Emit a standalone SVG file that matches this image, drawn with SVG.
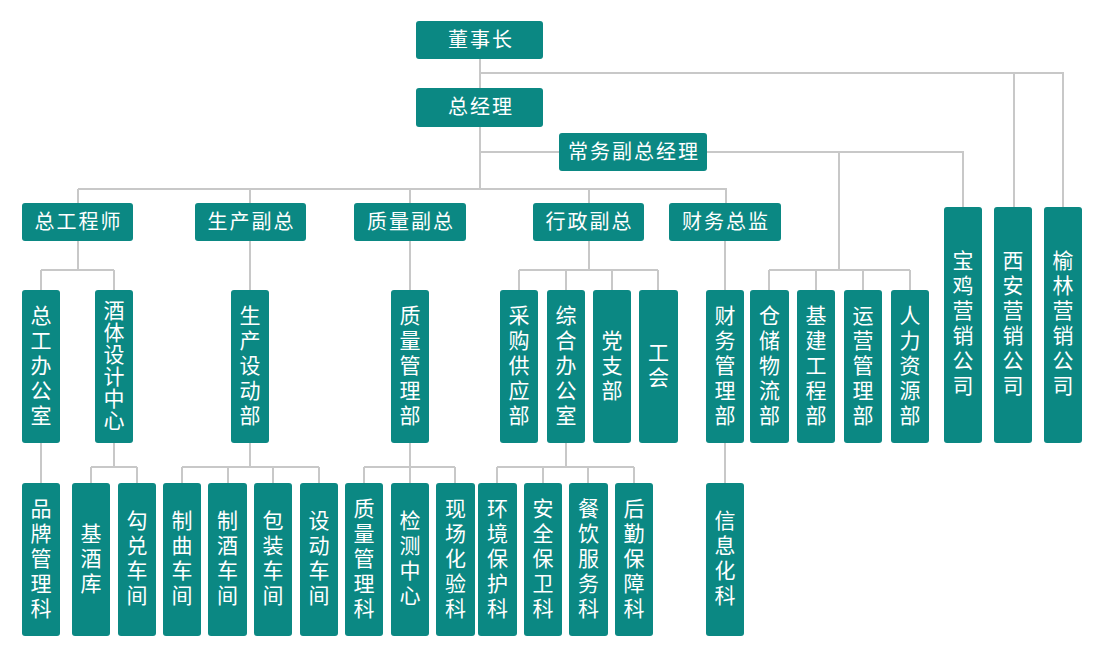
<svg xmlns="http://www.w3.org/2000/svg" width="1100" height="648" viewBox="0 0 1100 648">
<style>
.b{fill:#0b8883}
.t{fill:#ffffff;font-family:"Noto Sans CJK SC","Noto Sans",sans-serif;font-size:20px;letter-spacing:2px}
.v{fill:#ffffff;font-family:"Noto Sans CJK SC","Noto Sans",sans-serif;font-size:21px;text-anchor:middle}
.c{fill:none;stroke:#c8c8c8;stroke-width:2}
</style>
<rect width="1100" height="648" fill="#ffffff"/>
<g id="connectors" class="c">
<path d="M480 59V188M480 73H1063V207M1014 73V207"/>
<path d="M480 152H559M707 152H963V207M839 152V270"/>
<path d="M78 189H726V203M78 189V203M250 189V203M410 189V203M589 189V203"/>
<path d="M78 241V270M41 270H114M41 270V290M114 270V290"/>
<path d="M250 241V290M410 241V290"/>
<path d="M589 241V270M519 270H658M519 270V290M566 270V290M612 270V290M658 270V290"/>
<path d="M725 241V290M769 270H910M769 270V290M816 270V290M863 270V290M910 270V290"/>
<path d="M41 443V483"/>
<path d="M114 443V467M91 467H137M91 467V483M137 467V483"/>
<path d="M250 443V467M182 467H319M182 467V483M228 467V483M273 467V483M319 467V483"/>
<path d="M410 443V467M364 467H455M364 467V483M410 467V483M455 467V483"/>
<path d="M566 443V467M497 467H634M497 467V483M543 467V483M588 467V483M634 467V483"/>
<path d="M725 443V483"/>
</g>
<g id="n-dongshizhang"><rect class="b" x="416" y="21" width="127" height="38" rx="3"/><text class="t" x="481" y="47" text-anchor="middle">董事长</text></g>
<g id="n-zongjingli"><rect class="b" x="416" y="88" width="127" height="39" rx="3"/><text class="t" x="481" y="114" text-anchor="middle">总经理</text></g>
<g id="n-changwu"><rect class="b" x="559" y="133" width="148" height="38" rx="3"/><text class="t" x="634" y="159" text-anchor="middle">常务副总经理</text></g>
<g id="n-zonggong"><rect class="b" x="22" y="203" width="111" height="38" rx="3"/><text class="t" x="78.5" y="229" text-anchor="middle">总工程师</text></g>
<g id="n-shengchan"><rect class="b" x="195" y="203" width="111" height="38" rx="3"/><text class="t" x="251.5" y="229" text-anchor="middle">生产副总</text></g>
<g id="n-zhiliang"><rect class="b" x="354" y="203" width="112" height="38" rx="3"/><text class="t" x="411" y="229" text-anchor="middle">质量副总</text></g>
<g id="n-xingzheng"><rect class="b" x="533" y="203" width="111" height="38" rx="3"/><text class="t" x="589.5" y="229" text-anchor="middle">行政副总</text></g>
<g id="n-caiwu"><rect class="b" x="669" y="203" width="112" height="38" rx="3"/><text class="t" x="726" y="229" text-anchor="middle">财务总监</text></g>
<g id="n-baoji"><rect class="b" x="944" y="207" width="38" height="236" rx="3"/><text class="v" x="963" y="268"><tspan x="963">宝</tspan><tspan x="963" dy="25">鸡</tspan><tspan x="963" dy="25">营</tspan><tspan x="963" dy="25">销</tspan><tspan x="963" dy="25">公</tspan><tspan x="963" dy="25">司</tspan></text></g>
<g id="n-xian"><rect class="b" x="994" y="207" width="38" height="236" rx="3"/><text class="v" x="1013" y="268"><tspan x="1013">西</tspan><tspan x="1013" dy="25">安</tspan><tspan x="1013" dy="25">营</tspan><tspan x="1013" dy="25">销</tspan><tspan x="1013" dy="25">公</tspan><tspan x="1013" dy="25">司</tspan></text></g>
<g id="n-yulin"><rect class="b" x="1044" y="207" width="38" height="236" rx="3"/><text class="v" x="1063" y="268"><tspan x="1063">榆</tspan><tspan x="1063" dy="25">林</tspan><tspan x="1063" dy="25">营</tspan><tspan x="1063" dy="25">销</tspan><tspan x="1063" dy="25">公</tspan><tspan x="1063" dy="25">司</tspan></text></g>
<g id="n-zonggongban"><rect class="b" x="22" y="290" width="38" height="153" rx="3"/><text class="v" x="41" y="323"><tspan x="41">总</tspan><tspan x="41" dy="25">工</tspan><tspan x="41" dy="25">办</tspan><tspan x="41" dy="25">公</tspan><tspan x="41" dy="25">室</tspan></text></g>
<g id="n-jiuti"><rect class="b" x="95" y="290" width="38" height="153" rx="3"/><text class="v" x="114" y="318"><tspan x="114">酒</tspan><tspan x="114" dy="22">体</tspan><tspan x="114" dy="22">设</tspan><tspan x="114" dy="22">计</tspan><tspan x="114" dy="22">中</tspan><tspan x="114" dy="22">心</tspan></text></g>
<g id="n-shengchanbu"><rect class="b" x="231" y="290" width="38" height="153" rx="3"/><text class="v" x="250" y="323"><tspan x="250">生</tspan><tspan x="250" dy="25">产</tspan><tspan x="250" dy="25">设</tspan><tspan x="250" dy="25">动</tspan><tspan x="250" dy="25">部</tspan></text></g>
<g id="n-zhiliangbu"><rect class="b" x="391" y="290" width="38" height="153" rx="3"/><text class="v" x="410" y="323"><tspan x="410">质</tspan><tspan x="410" dy="25">量</tspan><tspan x="410" dy="25">管</tspan><tspan x="410" dy="25">理</tspan><tspan x="410" dy="25">部</tspan></text></g>
<g id="n-caigou"><rect class="b" x="500" y="290" width="38" height="153" rx="3"/><text class="v" x="519" y="323"><tspan x="519">采</tspan><tspan x="519" dy="25">购</tspan><tspan x="519" dy="25">供</tspan><tspan x="519" dy="25">应</tspan><tspan x="519" dy="25">部</tspan></text></g>
<g id="n-zonghe"><rect class="b" x="547" y="290" width="38" height="153" rx="3"/><text class="v" x="566" y="323"><tspan x="566">综</tspan><tspan x="566" dy="25">合</tspan><tspan x="566" dy="25">办</tspan><tspan x="566" dy="25">公</tspan><tspan x="566" dy="25">室</tspan></text></g>
<g id="n-dangzhibu"><rect class="b" x="593" y="290" width="38" height="153" rx="3"/><text class="v" x="612" y="348"><tspan x="612">党</tspan><tspan x="612" dy="25">支</tspan><tspan x="612" dy="25">部</tspan></text></g>
<g id="n-gonghui"><rect class="b" x="639" y="290" width="39" height="153" rx="3"/><text class="v" x="658.5" y="360"><tspan x="658.5">工</tspan><tspan x="658.5" dy="25">会</tspan></text></g>
<g id="n-caiwubu"><rect class="b" x="706" y="290" width="38" height="153" rx="3"/><text class="v" x="725" y="323"><tspan x="725">财</tspan><tspan x="725" dy="25">务</tspan><tspan x="725" dy="25">管</tspan><tspan x="725" dy="25">理</tspan><tspan x="725" dy="25">部</tspan></text></g>
<g id="n-cangchu"><rect class="b" x="750" y="290" width="39" height="153" rx="3"/><text class="v" x="769.5" y="323"><tspan x="769.5">仓</tspan><tspan x="769.5" dy="25">储</tspan><tspan x="769.5" dy="25">物</tspan><tspan x="769.5" dy="25">流</tspan><tspan x="769.5" dy="25">部</tspan></text></g>
<g id="n-jijian"><rect class="b" x="797" y="290" width="38" height="153" rx="3"/><text class="v" x="816" y="323"><tspan x="816">基</tspan><tspan x="816" dy="25">建</tspan><tspan x="816" dy="25">工</tspan><tspan x="816" dy="25">程</tspan><tspan x="816" dy="25">部</tspan></text></g>
<g id="n-yunying"><rect class="b" x="844" y="290" width="38" height="153" rx="3"/><text class="v" x="863" y="323"><tspan x="863">运</tspan><tspan x="863" dy="25">营</tspan><tspan x="863" dy="25">管</tspan><tspan x="863" dy="25">理</tspan><tspan x="863" dy="25">部</tspan></text></g>
<g id="n-renli"><rect class="b" x="891" y="290" width="38" height="153" rx="3"/><text class="v" x="910" y="323"><tspan x="910">人</tspan><tspan x="910" dy="25">力</tspan><tspan x="910" dy="25">资</tspan><tspan x="910" dy="25">源</tspan><tspan x="910" dy="25">部</tspan></text></g>
<g id="n-pinpai"><rect class="b" x="22" y="483" width="38" height="153" rx="3"/><text class="v" x="41" y="516"><tspan x="41">品</tspan><tspan x="41" dy="25">牌</tspan><tspan x="41" dy="25">管</tspan><tspan x="41" dy="25">理</tspan><tspan x="41" dy="25">科</tspan></text></g>
<g id="n-jijiuku"><rect class="b" x="72" y="483" width="38" height="153" rx="3"/><text class="v" x="91" y="541"><tspan x="91">基</tspan><tspan x="91" dy="25">酒</tspan><tspan x="91" dy="25">库</tspan></text></g>
<g id="n-goudui"><rect class="b" x="118" y="483" width="38" height="153" rx="3"/><text class="v" x="137" y="528"><tspan x="137">勾</tspan><tspan x="137" dy="25">兑</tspan><tspan x="137" dy="25">车</tspan><tspan x="137" dy="25">间</tspan></text></g>
<g id="n-zhiqu"><rect class="b" x="163" y="483" width="38" height="153" rx="3"/><text class="v" x="182" y="528"><tspan x="182">制</tspan><tspan x="182" dy="25">曲</tspan><tspan x="182" dy="25">车</tspan><tspan x="182" dy="25">间</tspan></text></g>
<g id="n-zhijiu"><rect class="b" x="208" y="483" width="39" height="153" rx="3"/><text class="v" x="227.5" y="528"><tspan x="227.5">制</tspan><tspan x="227.5" dy="25">酒</tspan><tspan x="227.5" dy="25">车</tspan><tspan x="227.5" dy="25">间</tspan></text></g>
<g id="n-baozhuang"><rect class="b" x="254" y="483" width="38" height="153" rx="3"/><text class="v" x="273" y="528"><tspan x="273">包</tspan><tspan x="273" dy="25">装</tspan><tspan x="273" dy="25">车</tspan><tspan x="273" dy="25">间</tspan></text></g>
<g id="n-shedong"><rect class="b" x="300" y="483" width="38" height="153" rx="3"/><text class="v" x="319" y="528"><tspan x="319">设</tspan><tspan x="319" dy="25">动</tspan><tspan x="319" dy="25">车</tspan><tspan x="319" dy="25">间</tspan></text></g>
<g id="n-zhiliangke"><rect class="b" x="345" y="483" width="38" height="153" rx="3"/><text class="v" x="364" y="516"><tspan x="364">质</tspan><tspan x="364" dy="25">量</tspan><tspan x="364" dy="25">管</tspan><tspan x="364" dy="25">理</tspan><tspan x="364" dy="25">科</tspan></text></g>
<g id="n-jiance"><rect class="b" x="391" y="483" width="38" height="153" rx="3"/><text class="v" x="410" y="528"><tspan x="410">检</tspan><tspan x="410" dy="25">测</tspan><tspan x="410" dy="25">中</tspan><tspan x="410" dy="25">心</tspan></text></g>
<g id="n-xianchang"><rect class="b" x="436" y="483" width="39" height="153" rx="3"/><text class="v" x="455.5" y="516"><tspan x="455.5">现</tspan><tspan x="455.5" dy="25">场</tspan><tspan x="455.5" dy="25">化</tspan><tspan x="455.5" dy="25">验</tspan><tspan x="455.5" dy="25">科</tspan></text></g>
<g id="n-huanjing"><rect class="b" x="478" y="483" width="39" height="153" rx="3"/><text class="v" x="497.5" y="516"><tspan x="497.5">环</tspan><tspan x="497.5" dy="25">境</tspan><tspan x="497.5" dy="25">保</tspan><tspan x="497.5" dy="25">护</tspan><tspan x="497.5" dy="25">科</tspan></text></g>
<g id="n-anquan"><rect class="b" x="524" y="483" width="38" height="153" rx="3"/><text class="v" x="543" y="516"><tspan x="543">安</tspan><tspan x="543" dy="25">全</tspan><tspan x="543" dy="25">保</tspan><tspan x="543" dy="25">卫</tspan><tspan x="543" dy="25">科</tspan></text></g>
<g id="n-canyin"><rect class="b" x="569" y="483" width="39" height="153" rx="3"/><text class="v" x="588.5" y="516"><tspan x="588.5">餐</tspan><tspan x="588.5" dy="25">饮</tspan><tspan x="588.5" dy="25">服</tspan><tspan x="588.5" dy="25">务</tspan><tspan x="588.5" dy="25">科</tspan></text></g>
<g id="n-houqin"><rect class="b" x="615" y="483" width="38" height="153" rx="3"/><text class="v" x="634" y="516"><tspan x="634">后</tspan><tspan x="634" dy="25">勤</tspan><tspan x="634" dy="25">保</tspan><tspan x="634" dy="25">障</tspan><tspan x="634" dy="25">科</tspan></text></g>
<g id="n-xinxi"><rect class="b" x="706" y="483" width="38" height="153" rx="3"/><text class="v" x="725" y="528"><tspan x="725">信</tspan><tspan x="725" dy="25">息</tspan><tspan x="725" dy="25">化</tspan><tspan x="725" dy="25">科</tspan></text></g>
</svg>
